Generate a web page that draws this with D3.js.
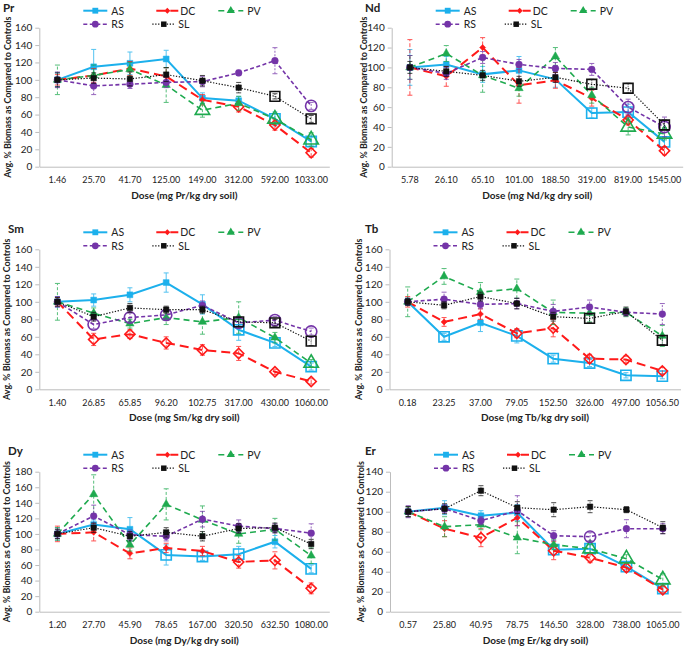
<!DOCTYPE html>
<html><head><meta charset="utf-8">
<script src="https://cdn.jsdelivr.net/npm/d3@7"></script>
<style>
html,body{margin:0;padding:0;background:#fff;}
svg text{font-family:Lato,"Liberation Sans",sans-serif;}
</style></head>
<body>
<svg id="chart" width="685" height="646"></svg>
<script>
const seriesNames = ["AS","DC","PV","RS","SL"];
const yTickLabels160 = [0,20,40,60,80,100,120,140,160];
const yTickLabels140 = [0,20,40,60,80,100,120,140];
const yTickLabels180 = [0,20,40,60,80,100,120,140,160,180];

// ---- Pr ----
const Pr_doses = ["1.46","25.70","41.70","125.00","149.00","312.00","592.00","1033.00"];
const Pr_AS = [100,115,119,124,79,76,55,29];
const Pr_AS_err = [8,20,13,10,6,5,8,5];
const Pr_AS_open = [0,0,0,0,0,0,1,1];
const Pr_DC = [100,105,113,104,77,69,48,16];
const Pr_DC_err = [6,8,8,10,6,6,6,5];
const Pr_DC_open = [0,0,0,0,0,1,1,1];
const Pr_PV = [100,105,112,94,65,73,55,31];
const Pr_PV_err = [17,12,8,20,8,8,6,8];
const Pr_PV_open = [0,0,0,0,1,0,1,1];
const Pr_RS = [100,93,95,97,98,108,122,70];
const Pr_RS_err = [9,10,5,6,6,3,15,4];
const Pr_RS_open = [0,0,0,0,0,0,0,1];
const Pr_SL = [100,102,101,106,99,91,81,55];
const Pr_SL_err = [8,6,8,8,6,6,3,4];
const Pr_SL_open = [0,0,0,0,0,0,1,1];

// ---- Nd ----
const Nd_doses = ["5.78","26.10","65.10","101.00","188.50","319.00","819.00","1545.00"];
const Nd_AS = [100,103,93,97,88,54,55,25];
const Nd_AS_err = [18,8,8,14,8,5,8,5];
const Nd_AS_open = [0,0,0,0,0,1,1,1];
const Nd_DC = [100,91,120,82,87,69,47,16];
const Nd_DC_err = [28,10,10,18,8,8,5,4];
const Nd_DC_open = [0,0,0,0,0,0,1,1];
const Nd_PV = [100,114,92,79,111,72,40,33];
const Nd_PV_err = [12,8,17,8,9,8,8,6];
const Nd_PV_open = [0,0,0,0,0,0,1,1];
const Nd_RS = [100,94,110,103,99,98,60,40];
const Nd_RS_err = [12,6,6,5,6,6,8,10];
const Nd_RS_open = [0,0,0,0,0,0,1,1];
const Nd_SL = [100,96,92,86,90,83,79,42];
const Nd_SL_err = [6,5,5,5,5,5,5,5];
const Nd_SL_open = [0,0,0,0,0,1,1,1];

// ---- Sm ----
const Sm_doses = ["1.40","26.85","65.85","96.20","102.75","317.00","430.00","1060.00"];
const Sm_AS = [100,102,108,122,97,68,53,26];
const Sm_AS_err = [6,7,8,11,11,12,4,4];
const Sm_AS_open = [0,0,0,0,0,1,1,1];
const Sm_DC = [100,57,63,53,45,41,20,9];
const Sm_DC_err = [5,7,5,7,6,8,3,3];
const Sm_DC_open = [0,1,1,1,1,1,1,1];
const Sm_PV = [100,87,75,82,77,82,59,30];
const Sm_PV_err = [21,6,5,8,14,18,6,4];
const Sm_PV_open = [0,0,0,0,0,0,0,1];
const Sm_RS = [100,74,82,85,96,76,79,66];
const Sm_RS_err = [6,5,5,4,5,5,4,4];
const Sm_RS_open = [0,1,1,1,0,1,1,1];
const Sm_SL = [100,83,93,91,91,77,76,55];
const Sm_SL_err = [5,5,5,4,4,5,4,5];
const Sm_SL_open = [0,0,0,0,0,1,1,1];

// ---- Tb ----
const Tb_doses = ["0.18","23.25","37.00","79.05","152.50","326.00","497.00","1056.50"];
const Tb_AS = [100,60,76,61,35,30,16,15];
const Tb_AS_err = [4,4,10,8,4,4,3,3];
const Tb_AS_open = [0,1,0,1,1,1,1,1];
const Tb_DC = [100,77,86,64,70,35,34,21];
const Tb_DC_err = [6,5,6,5,10,5,4,4];
const Tb_DC_open = [0,0,0,1,1,1,1,1];
const Tb_PV = [100,129,111,115,88,87,88,61];
const Tb_PV_err = [17,9,11,11,14,10,5,12];
const Tb_PV_open = [0,0,0,0,0,0,0,0];
const Tb_RS = [100,103,97,98,89,94,88,86];
const Tb_RS_err = [4,8,5,6,8,8,4,12];
const Tb_RS_open = [0,0,0,0,0,0,0,0];
const Tb_SL = [100,96,106,98,83,81,89,56];
const Tb_SL_err = [4,4,5,6,5,5,5,5];
const Tb_SL_open = [0,0,0,0,0,1,0,1];

// ---- Dy ----
const Dy_doses = ["1.20","27.70","45.90","78.65","167.00","320.50","632.50","1080.00"];
const Dy_AS = [100,112,106,73,71,74,90,55];
const Dy_AS_err = [8,6,15,13,5,10,8,5];
const Dy_AS_open = [0,0,0,1,1,1,0,1];
const Dy_DC = [100,102,75,82,78,64,66,30];
const Dy_DC_err = [10,11,7,6,6,8,11,7];
const Dy_DC_open = [0,0,0,0,0,1,1,1];
const Dy_PV = [100,151,86,138,118,100,106,72];
const Dy_PV_err = [8,25,8,20,18,12,14,10];
const Dy_PV_open = [0,0,0,0,0,0,0,0];
const Dy_RS = [100,123,99,97,119,110,107,101];
const Dy_RS_err = [6,14,6,6,10,8,6,12];
const Dy_RS_open = [0,0,0,0,0,0,0,0];
const Dy_SL = [100,108,97,102,97,107,108,87];
const Dy_SL_err = [6,6,6,6,6,6,6,6];
const Dy_SL_open = [0,0,0,0,0,0,0,0];

// ---- Er ----
const Er_doses = ["0.57","25.80","40.95","78.75","146.50","328.00","738.00","1065.00"];
const Er_AS = [100,104,96,99,62,63,45,23];
const Er_AS_err = [5,7,5,8,5,4,3,3];
const Er_AS_open = [0,0,0,0,1,1,1,1];
const Er_DC = [100,83,74,94,61,54,44,22];
const Er_DC_err = [5,8,9,8,9,5,4,3];
const Er_DC_open = [0,0,1,0,1,1,1,1];
const Er_PV = [100,85,87,74,67,63,53,32];
const Er_PV_err = [5,10,5,16,5,4,4,6];
const Er_PV_open = [0,0,0,0,0,1,1,1];
const Er_RS = [100,103,91,101,76,75,83,83];
const Er_RS_err = [6,4,4,15,5,4,9,5];
const Er_RS_open = [0,0,0,0,0,1,0,0];
const Er_SL = [100,103,121,104,102,105,102,84];
const Er_SL_err = [5,5,5,6,7,6,3,6];
const Er_SL_open = [0,0,0,0,0,0,0,0];

// ---- styles ----
const styles = {
  AS:{color:"#1cb0ec", width:2, dash:null, sym:d3.symbolSquare, rot:0, fs:34, os:105, errDash:null},
  DC:{color:"#ff1a1a", width:2, dash:"9,5", sym:d3.symbolSquare, rot:45, fs:18, os:52, errDash:"4,2"},
  PV:{color:"#1faa4f", width:1.6, dash:"6,4", sym:d3.symbolTriangle, rot:0, fs:30, os:90, errDash:"3,2"},
  RS:{color:"#7434a8", width:1.6, dash:"4,2.5", sym:d3.symbolCircle, rot:0, fs:36, os:100, errDash:"2,1.5"},
  SL:{color:"#111111", width:1.2, dash:"1.3,1.6", sym:d3.symbolSquare, rot:0, fs:30, os:95, errDash:"1,1"}
};

const panels = [
  {name:"Pr", doses:Pr_doses, ymax:160, ticks:yTickLabels160, left:39.3, top:27.7, bottom:166.7, width:290, ytX:7, tX:3, tY:12,
   data:{AS:[Pr_AS,Pr_AS_err,Pr_AS_open],DC:[Pr_DC,Pr_DC_err,Pr_DC_open],PV:[Pr_PV,Pr_PV_err,Pr_PV_open],RS:[Pr_RS,Pr_RS_err,Pr_RS_open],SL:[Pr_SL,Pr_SL_err,Pr_SL_open]}},
  {name:"Nd", doses:Nd_doses, ymax:140, ticks:yTickLabels140, left:391.7, top:27.7, bottom:166.7, width:291, ytX:363, tX:365, tY:12,
   data:{AS:[Nd_AS,Nd_AS_err,Nd_AS_open],DC:[Nd_DC,Nd_DC_err,Nd_DC_open],PV:[Nd_PV,Nd_PV_err,Nd_PV_open],RS:[Nd_RS,Nd_RS_err,Nd_RS_open],SL:[Nd_SL,Nd_SL_err,Nd_SL_open]}},
  {name:"Sm", doses:Sm_doses, ymax:160, ticks:yTickLabels160, left:39.3, top:249.3, bottom:389.3, width:290, ytX:6, tX:8, tY:233,
   data:{AS:[Sm_AS,Sm_AS_err,Sm_AS_open],DC:[Sm_DC,Sm_DC_err,Sm_DC_open],PV:[Sm_PV,Sm_PV_err,Sm_PV_open],RS:[Sm_RS,Sm_RS_err,Sm_RS_open],SL:[Sm_SL,Sm_SL_err,Sm_SL_open]}},
  {name:"Tb", doses:Tb_doses, ymax:160, ticks:yTickLabels160, left:389.5, top:249.3, bottom:389.3, width:291, ytX:358, tX:365, tY:233,
   data:{AS:[Tb_AS,Tb_AS_err,Tb_AS_open],DC:[Tb_DC,Tb_DC_err,Tb_DC_open],PV:[Tb_PV,Tb_PV_err,Tb_PV_open],RS:[Tb_RS,Tb_RS_err,Tb_RS_open],SL:[Tb_SL,Tb_SL_err,Tb_SL_open]}},
  {name:"Dy", doses:Dy_doses, ymax:180, ticks:yTickLabels180, left:39.3, top:471.7, bottom:611.7, width:290, ytX:6, tX:8, tY:455,
   data:{AS:[Dy_AS,Dy_AS_err,Dy_AS_open],DC:[Dy_DC,Dy_DC_err,Dy_DC_open],PV:[Dy_PV,Dy_PV_err,Dy_PV_open],RS:[Dy_RS,Dy_RS_err,Dy_RS_open],SL:[Dy_SL,Dy_SL_err,Dy_SL_open]}},
  {name:"Er", doses:Er_doses, ymax:140, ticks:yTickLabels140, left:390, top:471.7, bottom:611.7, width:291, ytX:360, tX:365, tY:455,
   data:{AS:[Er_AS,Er_AS_err,Er_AS_open],DC:[Er_DC,Er_DC_err,Er_DC_open],PV:[Er_PV,Er_PV_err,Er_PV_open],RS:[Er_RS,Er_RS_err,Er_RS_open],SL:[Er_SL,Er_SL_err,Er_SL_open]}}
];

const svg = d3.select("#chart");

panels.forEach(p => {
  const g = svg.append("g");
  const x = d3.scaleBand().domain(p.doses).range([p.left, p.left + p.width]).padding(0);
  const y = d3.scaleLinear().domain([0, p.ymax]).range([p.bottom, p.top]);

  // y axis
  const ya = g.append("g").attr("transform", `translate(${p.left},0)`)
    .call(d3.axisLeft(y).tickValues(p.ticks).tickSize(4).tickSizeOuter(0).tickPadding(3).tickFormat(d3.format("d")));
  ya.select(".domain").attr("stroke", "#bdbdbd");
  ya.selectAll(".tick line").attr("stroke", "#bdbdbd");
  ya.selectAll(".tick text").attr("font-size", 10).attr("fill", "#222").style("font-family","Lato");

  // x axis
  const xa = g.append("g").attr("transform", `translate(0,${p.bottom})`)
    .call(d3.axisBottom(x).tickSize(0).tickSizeOuter(0).tickPadding(10));
  xa.select(".domain").attr("stroke", "#bdbdbd");
  xa.selectAll(".tick text").attr("font-size", 9).attr("fill", "#222").style("font-family","Lato");

  // axis titles
  g.append("text").attr("x", p.left + p.width/2).attr("y", p.bottom + 32)
    .attr("text-anchor", "middle").attr("font-size", 10).attr("font-weight", "bold").attr("fill","#222")
    .text(`Dose (mg ${p.name}/kg dry soil)`);
  g.append("text").attr("transform", `translate(${p.ytX + 3.5},${(p.top + p.bottom)/2}) rotate(-90)`)
    .attr("text-anchor", "middle").attr("font-size", 8.9).attr("font-weight", "bold").attr("fill","#222")
    .text("Avg. % Biomass as Compared to Controls");
  // panel title
  g.append("text").attr("x", p.tX).attr("y", p.tY).attr("font-size", 11.5).attr("font-weight", "bold").attr("fill","#222")
    .text(p.name);

  const cx = d => x(d) + x.bandwidth()/2;

  // series
  seriesNames.forEach(s => {
    const st = styles[s];
    const [vals, errs, opens] = p.data[s];
    const pts = p.doses.map((d,i) => ({d, v:vals[i], e:errs[i], o:opens[i]}));
    const sg = g.append("g");
    // error bars
    const eb = sg.selectAll(".eb").data(pts).enter().append("g").attr("opacity", 0.75);
    eb.append("line").attr("x1", d=>cx(d.d)).attr("x2", d=>cx(d.d))
      .attr("y1", d=>y(d.v - d.e)).attr("y2", d=>y(d.v + d.e))
      .attr("stroke", st.color).attr("stroke-width", 1).attr("stroke-dasharray", st.errDash);
    [-1,1].forEach(sgn => {
      eb.append("line").attr("x1", d=>cx(d.d)-2.5).attr("x2", d=>cx(d.d)+2.5)
        .attr("y1", d=>y(d.v + sgn*d.e)).attr("y2", d=>y(d.v + sgn*d.e))
        .attr("stroke", st.color).attr("stroke-width", 1);
    });
    // line
    sg.append("path").datum(pts)
      .attr("d", d3.line().x(d=>cx(d.d)).y(d=>y(d.v)))
      .attr("fill", "none").attr("stroke", st.color).attr("stroke-width", st.width)
      .attr("stroke-dasharray", st.dash);
    // markers
    sg.selectAll(".mk").data(pts).enter().append("path")
      .attr("transform", d=>`translate(${cx(d.d)},${y(d.v)}) rotate(${st.rot})`)
      .attr("d", d => d3.symbol().type(st.sym).size(d.o ? st.os : st.fs)())
      .attr("fill", d => d.o ? "none" : st.color)
      .attr("stroke", st.color)
      .attr("stroke-width", d => d.o ? 1.6 : 0.5);
  });

  // legend
  const legendPos = {
    AS:{x1:44, x2:68, tx:72, row:0},
    DC:{x1:117, x2:139, tx:141, row:0},
    PV:{x1:179, x2:204, tx:208, row:0},
    RS:{x1:44, x2:68, tx:72, row:1},
    SL:{x1:113, x2:136, tx:139, row:1}
  };
  seriesNames.forEach(s => {
    const st = styles[s], lp = legendPos[s];
    const ly = p.top - 17 + lp.row * 13.5;
    g.append("line").attr("x1", p.left + lp.x1).attr("x2", p.left + lp.x2).attr("y1", ly).attr("y2", ly)
      .attr("stroke", st.color).attr("stroke-width", st.width).attr("stroke-dasharray", st.dash);
    g.append("path").attr("transform", `translate(${p.left + (lp.x1+lp.x2)/2},${ly}) rotate(${st.rot})`)
      .attr("d", d3.symbol().type(st.sym).size(st.fs)()).attr("fill", st.color);
    g.append("text").attr("x", p.left + lp.tx).attr("y", ly + 3.8).attr("font-size", 10.5).attr("fill", "#222").text(s);
  });
});
</script>
</body></html>
